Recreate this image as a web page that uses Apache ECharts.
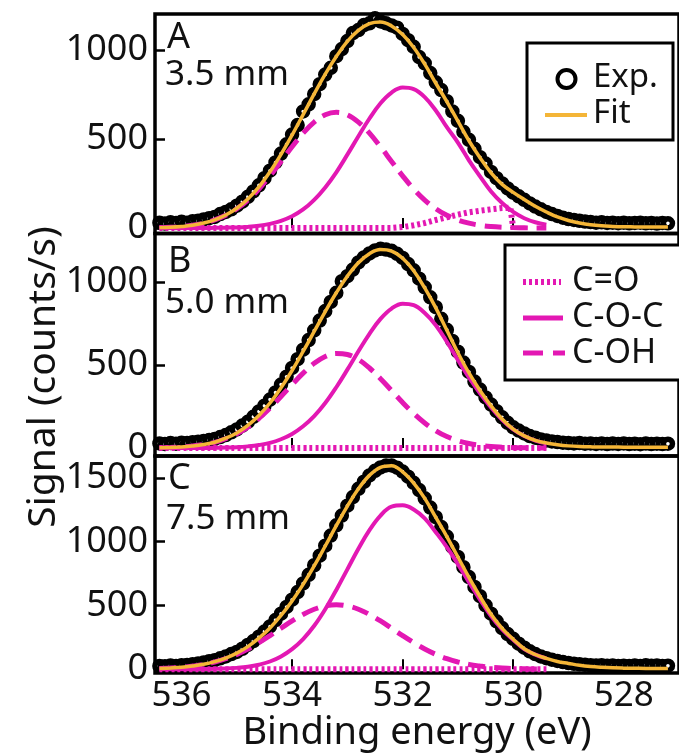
<!DOCTYPE html>
<html>
<head>
<meta charset="utf-8">
<script src="https://cdn.jsdelivr.net/npm/echarts@6/dist/echarts.min.js"></script>
<style>
  html, body { margin: 0; padding: 0; background: #fff; }
  #chart { width: 679px; height: 753px; }
</style>
</head>
<body>
<div id="chart"></div>
<script>
// O 1s XPS spectra at three positions, with the fitted envelope and its components.

// Binding energies (eV) of the measured points
const energyFine = [
  536.4, 536.3, 536.2, 536.1, 536.0, 535.9, 535.8, 535.7, 535.6, 535.5,
  535.4, 535.3, 535.2, 535.1, 535.0, 534.9, 534.8, 534.7, 534.6, 534.5,
  534.4, 534.3, 534.2, 534.1, 534.0, 533.9, 533.8, 533.7, 533.6, 533.5,
  533.4, 533.3, 533.2, 533.1, 533.0, 532.9, 532.8, 532.7, 532.6, 532.5,
  532.4, 532.3, 532.2, 532.1, 532.0, 531.9, 531.8, 531.7, 531.6, 531.5,
  531.4, 531.3, 531.2, 531.1, 531.0, 530.9, 530.8, 530.7, 530.6, 530.5,
  530.4, 530.3, 530.2, 530.1, 530.0, 529.9, 529.8, 529.7, 529.6, 529.5,
  529.4, 529.3, 529.2, 529.1, 529.0, 528.9, 528.8, 528.7, 528.6, 528.5,
  528.4, 528.3, 528.2, 528.1, 528.0, 527.9, 527.8, 527.7, 527.6, 527.5,
  527.4, 527.3, 527.2
];

// Binding energies (eV) at which the fit and its components are tabulated
const energyFit = [
  536.4, 536.2, 536.0, 535.8, 535.6, 535.4, 535.2, 535.0, 534.8, 534.6,
  534.4, 534.2, 534.0, 533.8, 533.6, 533.4, 533.2, 533.0, 532.8, 532.6,
  532.4, 532.2, 532.0, 531.8, 531.6, 531.4, 531.2, 531.0, 530.8, 530.6,
  530.4, 530.2, 530.0, 529.8, 529.6, 529.4, 529.2, 529.0, 528.8, 528.6,
  528.4, 528.2, 528.0, 527.8, 527.6, 527.4, 527.2
];
// components cover the first 36 fit energies (536.4 ... 529.4 eV)

// ---- Panel A: 3.5 mm ----
const expA = [
  30, 25, 32, 28, 35, 30, 38, 40, 48, 55,
  62, 78, 90, 105, 125, 148, 175, 205, 240, 280,
  322, 368, 418, 470, 525, 578, 655, 695, 752, 808,
  862, 900, 965, 1005, 1050, 1095, 1112, 1140, 1150, 1178,
  1160, 1150, 1138, 1125, 1090, 1055, 1018, 960, 925, 870,
  818, 775, 712, 655, 602, 540, 495, 445, 398, 362,
  315, 280, 250, 222, 198, 178, 158, 138, 120, 105,
  90, 78, 68, 58, 50, 45, 40, 36, 33, 30,
  32, 28, 30, 27, 30, 26, 28, 30, 26, 28,
  25, 28, 26
];
const fitA = [
  2, 4, 8, 15, 28, 46, 73, 111, 163, 231,
  316, 414, 522, 637, 753, 864, 963, 1048, 1110, 1148,
  1157, 1135, 1087, 1014, 920, 813, 710, 600, 490, 395,
  310, 245, 200, 160, 122, 90, 62, 42, 28, 18,
  12, 9, 7, 6, 5, 5, 5
];
const cohA = [
  2, 4, 8, 15, 27, 45, 71, 108, 157, 219,
  293, 374, 456, 533, 595, 636, 650, 636, 595, 533,
  456, 374, 293, 219, 157, 108, 71, 45, 27, 15,
  8, 4, 2, 1, 0, 0
];
const cocA = [
  0, 0, 0, 0, 0, 1, 2, 3, 6, 12,
  23, 40, 66, 104, 158, 228, 313, 412, 515, 615,
  701, 761, 789, 780, 735, 660, 566, 480, 380, 290,
  205, 140, 90, 55, 32, 18
];
const coEnergyA = [
  536.4, 536.2, 536.0, 535.8, 535.6, 535.4, 535.2, 535.0, 534.8, 534.6,
  534.4, 534.2, 534.0, 533.8, 533.6, 533.4, 533.2, 533.0, 532.8, 532.6,
  532.4, 532.2, 532.0, 531.8, 531.6, 531.4, 531.2, 531.0, 530.8, 530.6,
  530.4, 530.2, 530.05, 530.0
];
const coA = [
  0, 0, 0, 0, 0, 0, 0, 0, 0, 0,
  0, 0, 0, 0, 0, 0, 0, 0, 0, 0,
  0, 0, 5, 15, 28, 45, 60, 75, 88, 97,
  105, 112, 114, 0
];

// ---- Panel B: 5.0 mm ----
const expB = [
  28, 24, 30, 26, 32, 30, 35, 38, 42, 48,
  55, 66, 78, 95, 112, 135, 158, 188, 220, 255,
  292, 335, 382, 430, 482, 535, 592, 650, 708, 768,
  825, 880, 935, 1005, 1035, 1075, 1118, 1148, 1172, 1190,
  1200, 1195, 1188, 1170, 1145, 1108, 1070, 1020, 968, 908,
  848, 778, 712, 645, 580, 515, 458, 400, 352, 305,
  262, 222, 185, 152, 125, 105, 88, 72, 62, 52,
  45, 40, 36, 32, 30, 28, 30, 26, 28, 25,
  28, 24, 27, 25, 28, 24, 26, 23, 27, 24,
  26, 24, 26
];
const fitB = [
  2, 3, 6, 12, 21, 35, 59, 91, 136, 196,
  271, 363, 467, 582, 702, 822, 935, 1035, 1116, 1170,
  1195, 1186, 1143, 1068, 964, 844, 709, 574, 452, 346,
  254, 175, 114, 73, 46, 30, 20, 13, 9, 7,
  6, 6, 5, 5, 5, 5, 5
];
const cohB = [
  2, 3, 6, 12, 21, 34, 56, 86, 126, 178,
  240, 310, 382, 451, 510, 551, 569, 563, 533, 482,
  417, 346, 274, 208, 151, 104, 69, 44, 27, 16,
  9, 5, 2, 1, 0, 0
];
const cocB = [
  0, 0, 0, 0, 0, 1, 3, 5, 10, 18,
  31, 53, 85, 131, 192, 271, 366, 472, 583, 688,
  778, 840, 869, 860, 813, 740, 640, 530, 425, 330,
  245, 170, 112, 72, 45, 28
];
const coB = [
  0, 0, 0, 0, 0, 0, 0, 0, 0, 0,
  0, 0, 0, 0, 0, 0, 0, 0, 0, 0,
  0, 0, 0, 0, 0, 0, 0, 0, 0, 0,
  0, 0, 0, 0, 0, 0
];

// ---- Panel C: 7.5 mm ----
const expC = [
  25, 22, 28, 25, 30, 32, 38, 44, 52, 62,
  70, 85, 100, 118, 135, 160, 190, 220, 255, 295,
  335, 385, 435, 488, 545, 605, 672, 740, 815, 890,
  968, 1048, 1128, 1205, 1282, 1350, 1415, 1470, 1520, 1556,
  1582, 1598, 1598, 1580, 1550, 1510, 1462, 1405, 1340, 1268,
  1192, 1115, 1040, 960, 880, 800, 722, 645, 572, 500,
  435, 375, 322, 275, 238, 200, 168, 140, 118, 100,
  86, 74, 64, 56, 48, 42, 38, 34, 30, 28,
  30, 26, 28, 25, 27, 24, 28, 25, 30, 26,
  28, 25, 27
];
const fitC = [
  5, 9, 14, 24, 38, 59, 87, 126, 177, 243,
  323, 421, 535, 665, 810, 966, 1126, 1279, 1415, 1520,
  1583, 1596, 1548, 1460, 1340, 1190, 1040, 880, 720, 570,
  430, 320, 235, 160, 115, 85, 60, 45, 30, 20,
  14, 10, 8, 7, 6, 6, 6
];
const cohC = [
  5, 9, 14, 24, 37, 56, 82, 116, 158, 208,
  263, 321, 378, 429, 470, 496, 505, 496, 470, 429,
  378, 321, 263, 208, 158, 116, 82, 56, 37, 24,
  14, 9, 5, 3, 1, 1
];
const cocC = [
  0, 0, 0, 0, 1, 3, 5, 10, 19, 35,
  60, 100, 157, 236, 340, 470, 621, 783, 945, 1091,
  1205, 1275, 1285, 1252, 1182, 1074, 958, 824, 683, 546,
  416, 311, 230, 157, 114, 84
];
const coC = [
  0, 0, 0, 0, 0, 0, 0, 0, 0, 0,
  0, 0, 0, 0, 0, 0, 0, 0, 0, 0,
  0, 0, 0, 0, 0, 0, 0, 0, 0, 0,
  0, 0, 0, 0, 0, 0
];

// Axis ticks and text
const xTicks = [536, 534, 532, 530, 528];
const yTicks = [[0, 500, 1000], [0, 500, 1000], [0, 500, 1000, 1500]];
const panelLetters = ['A', 'B', 'C'];
const panelDistances = ['3.5 mm', '5.0 mm', '7.5 mm'];
const seriesNames = ['Exp.', 'Fit', 'C=O', 'C-O-C', 'C-OH'];

// ---- drawing ----
const FONT = '"Noto Sans", "DejaVu Sans", sans-serif';
const MAGENTA = '#E318B3';
const ORANGE = '#F4B537';
const INK = '#111';

const pairs = (xs, ys) => ys.map((v, i) => [xs[i], v]);
const plain = v => String(v);

const panels = [
  { top: 14,    height: 219.5, yMin: -31, yMax: 1202,
    exp: expA, fit: fitA, coh: cohA, coc: cocA, co: pairs(coEnergyA, coA), coSmooth: false },
  { top: 233.5, height: 222.5, yMin: -48, yMax: 1292,
    exp: expB, fit: fitB, coh: cohB, coc: cocB, co: pairs(energyFit, coB), coSmooth: 0.4 },
  { top: 456,   height: 218,   yMin: -31, yMax: 1672,
    exp: expC, fit: fitC, coh: cohC, coc: cocC, co: pairs(energyFit, coC), coSmooth: 0.4 }
];

const grid = [], xAxis = [], yAxis = [], series = [];

panels.forEach((p, i) => {
  grid.push({
    left: 155, top: p.top, width: 535.6, height: p.height,
    show: true, borderColor: '#000', borderWidth: 3.5, backgroundColor: 'transparent'
  });
  xAxis.push({
    type: 'value', gridIndex: i, inverse: true, min: 527.0, max: 536.48,
    axisLine: { show: false },
    splitLine: { show: false },
    axisTick: { show: true, inside: true, length: 10, customValues: xTicks,
                lineStyle: { color: '#000', width: 2 } },
    axisLabel: { show: i === 2, customValues: xTicks, margin: 5, formatter: plain,
                 fontSize: 35, fontFamily: FONT, color: INK },
    name: i === 2 ? 'Binding energy (eV)' : '',
    nameLocation: 'middle', nameGap: 38,
    nameTextStyle: { fontSize: 38, fontFamily: FONT, color: INK }
  });
  yAxis.push({
    type: 'value', gridIndex: i, min: p.yMin, max: p.yMax,
    axisLine: { show: false },
    splitLine: { show: false },
    axisTick: { show: true, inside: true, length: 10, customValues: yTicks[i],
                lineStyle: { color: '#000', width: 2.5 } },
    axisLabel: { customValues: yTicks[i], margin: 7, formatter: plain,
                 fontSize: 36, fontFamily: FONT, color: INK }
  });

  const common = { xAxisIndex: i, yAxisIndex: i, animation: false, silent: true };
  series.push(Object.assign({
    name: seriesNames[2], type: 'line', data: p.co, showSymbol: false, smooth: p.coSmooth,
    lineStyle: { color: MAGENTA, width: 6, type: [3, 3] }
  }, common));
  series.push(Object.assign({
    name: seriesNames[4], type: 'line', data: pairs(energyFit, p.coh), showSymbol: false, smooth: 0.4,
    lineStyle: { color: MAGENTA, width: 5, type: [17, 9] }
  }, common));
  series.push(Object.assign({
    name: seriesNames[3], type: 'line', data: pairs(energyFit, p.coc), showSymbol: false, smooth: 0.4,
    lineStyle: { color: MAGENTA, width: 4 }
  }, common));
  // measured points: heavy open rings that overlap into a dark band
  series.push(Object.assign({
    name: seriesNames[0], type: 'scatter', data: pairs(energyFine, p.exp),
    symbol: 'circle', symbolSize: 9,
    itemStyle: { color: '#fff', borderColor: '#000', borderWidth: 5.5, opacity: 1 }
  }, common));
  series.push(Object.assign({
    name: seriesNames[1], type: 'line', data: pairs(energyFit, p.fit), showSymbol: false, smooth: 0.4,
    lineStyle: { color: ORANGE, width: 3.5 }
  }, common));
});

// Text and legend boxes
const txt = (x, y, text, size, extra) => Object.assign({
  type: 'text', x: x, y: y, z: 10,
  style: { text: text, font: size + 'px ' + FONT, fill: INK,
           textAlign: 'left', textVerticalAlign: 'middle' }
}, extra || {});

const graphic = [
  // y-axis title spanning the three panels
  txt(44, 377, 'Signal (counts/s)', 39, { rotation: Math.PI / 2,
    style: { text: 'Signal (counts/s)', font: '39px ' + FONT, fill: INK,
             textAlign: 'center', textVerticalAlign: 'middle' } }),
  // panel letters and distances
  txt(167, 38, panelLetters[0], 36), txt(165, 75.5, panelDistances[0], 35),
  txt(168, 261.5, panelLetters[1], 36), txt(165, 303.5, panelDistances[1], 35),
  txt(168, 479, panelLetters[2], 36), txt(166, 519.5, panelDistances[2], 35),

  // legend: data and fit
  { type: 'rect', z: 9, shape: { x: 527, y: 43, width: 146, height: 97 },
    style: { fill: '#fff', stroke: '#000', lineWidth: 3 } },
  { type: 'circle', z: 10, shape: { cx: 566.5, cy: 79, r: 9 },
    style: { fill: '#fff', stroke: '#000', lineWidth: 4 } },
  txt(593, 78, seriesNames[0], 33),
  { type: 'line', z: 10, shape: { x1: 545, y1: 115, x2: 587, y2: 115 },
    style: { stroke: ORANGE, lineWidth: 4 } },
  txt(593, 114, seriesNames[1], 33),

  // legend: components
  { type: 'rect', z: 9, shape: { x: 505, y: 245, width: 185, height: 135 },
    style: { fill: '#fff', stroke: '#000', lineWidth: 3 } },
  { type: 'line', z: 10, shape: { x1: 523, y1: 282, x2: 561, y2: 282 },
    style: { stroke: MAGENTA, lineWidth: 6, lineDash: [3, 3] } },
  txt(572, 281.5, seriesNames[2], 34),
  { type: 'line', z: 10, shape: { x1: 523, y1: 318, x2: 563, y2: 318 },
    style: { stroke: MAGENTA, lineWidth: 5 } },
  txt(572, 317.5, seriesNames[3], 34),
  { type: 'line', z: 10, shape: { x1: 523, y1: 353, x2: 565, y2: 353 },
    style: { stroke: MAGENTA, lineWidth: 5, lineDash: [20, 10] } },
  txt(572, 353, seriesNames[4], 34)
];

const chart = echarts.init(document.getElementById('chart'), null, { renderer: 'canvas' });
chart.setOption({
  animation: false,
  backgroundColor: '#fff',
  textStyle: { fontFamily: FONT },
  grid: grid,
  xAxis: xAxis,
  yAxis: yAxis,
  series: series,
  graphic: graphic
});
</script>
</body>
</html>
